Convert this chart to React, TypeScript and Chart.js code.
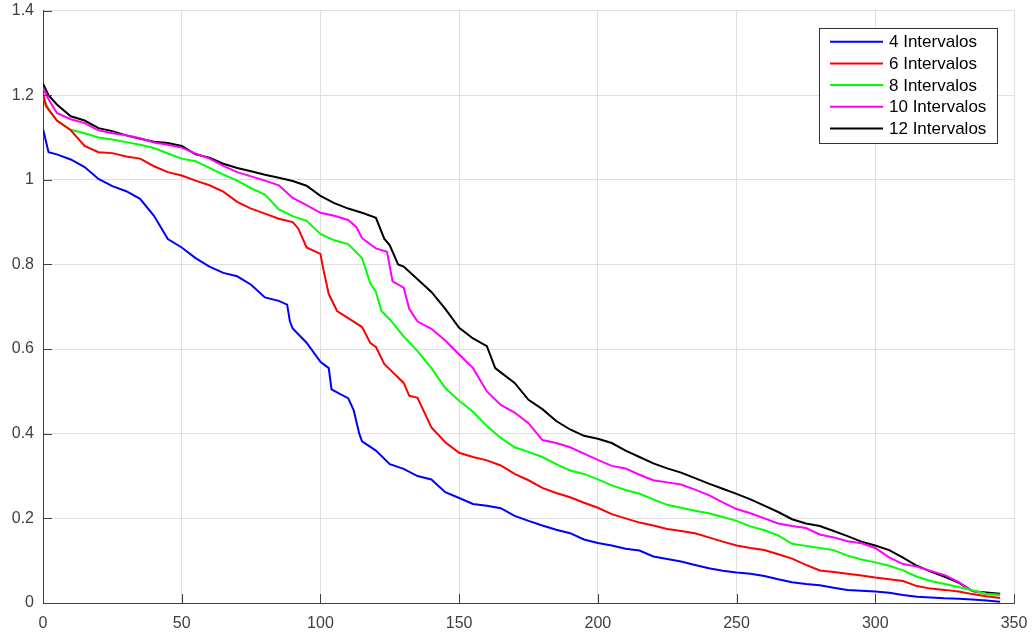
import React, { useEffect, useRef } from "react";
import { Chart, registerables } from "chart.js";

Chart.register(...registerables);

const seriesLabels = ["4 Intervalos", "6 Intervalos", "8 Intervalos", "10 Intervalos", "12 Intervalos"];
const seriesColors = ["#0000ff", "#ff0000", "#00ff00", "#ff00ff", "#000000"];

const xTicks = [0, 50, 100, 150, 200, 250, 300, 350];
const yTicks = [0, 0.2, 0.4, 0.6, 0.8, 1, 1.2, 1.4];

const blueX = [0,2,5,10,15,20,25,30,35,40,45,50,55,60,65,70,75,80,85,88,89,90,95,100,103,104,107,110,112,114,115,120,125,130,135,140,145,150,155,160,165,170,175,180,185,190,195,200,205,210,215,220,225,230,235,240,245,250,255,260,265,270,275,280,285,290,295,300,305,310,315,320,325,330,335,340,345];
const blueY = [1.12,1.065,1.06,1.048,1.03,1.002,0.985,0.973,0.955,0.915,0.86,0.84,0.815,0.795,0.78,0.772,0.752,0.722,0.714,0.705,0.665,0.649,0.615,0.57,0.555,0.505,0.494,0.484,0.455,0.40,0.382,0.36,0.328,0.317,0.300,0.292,0.262,0.248,0.234,0.230,0.224,0.206,0.194,0.183,0.173,0.165,0.150,0.142,0.136,0.128,0.124,0.110,0.104,0.098,0.090,0.082,0.076,0.072,0.069,0.064,0.056,0.049,0.045,0.042,0.036,0.031,0.029,0.027,0.024,0.019,0.015,0.013,0.011,0.010,0.008,0.006,0.003];

const redX = [0,1,5,10,15,20,25,30,35,40,45,50,55,60,65,70,75,80,85,90,92,95,100,101,103,106,110,115,118,120,123,125,130,132,135,140,145,150,155,160,165,170,175,180,185,190,195,200,205,210,215,220,225,230,235,240,245,250,255,260,265,270,275,280,285,290,295,300,305,310,315,320,325,330,335,340,345];
const redY = [1.206,1.175,1.14,1.117,1.08,1.065,1.063,1.055,1.05,1.032,1.018,1.01,0.998,0.987,0.972,0.948,0.932,0.92,0.908,0.9,0.885,0.84,0.825,0.79,0.73,0.69,0.673,0.652,0.614,0.605,0.565,0.552,0.52,0.49,0.485,0.415,0.38,0.355,0.345,0.337,0.325,0.305,0.29,0.272,0.26,0.25,0.237,0.225,0.21,0.2,0.19,0.183,0.175,0.17,0.165,0.155,0.145,0.136,0.13,0.125,0.115,0.105,0.09,0.077,0.073,0.069,0.065,0.06,0.056,0.052,0.04,0.034,0.031,0.027,0.021,0.016,0.012];

const greenX = [0,2,5,10,15,20,25,30,35,40,45,50,55,60,65,70,75,80,85,90,95,100,105,110,115,118,120,122,125,130,135,140,145,150,155,160,165,170,175,180,185,190,195,200,205,210,215,220,225,230,235,240,245,250,255,260,265,270,275,280,285,290,295,300,305,310,315,320,325,330,335,340,345];
const greenY = [1.195,1.166,1.14,1.118,1.11,1.1,1.095,1.089,1.083,1.075,1.062,1.05,1.044,1.028,1.012,0.998,0.98,0.965,0.93,0.914,0.903,0.872,0.857,0.848,0.815,0.755,0.735,0.69,0.67,0.63,0.595,0.555,0.508,0.478,0.452,0.418,0.39,0.368,0.357,0.345,0.328,0.313,0.305,0.292,0.278,0.267,0.258,0.245,0.232,0.225,0.218,0.212,0.203,0.194,0.181,0.172,0.16,0.14,0.135,0.13,0.125,0.112,0.103,0.096,0.088,0.077,0.062,0.052,0.045,0.038,0.03,0.022,0.018];

const magentaX = [0,2,5,10,15,20,25,30,35,40,45,50,55,60,65,70,75,80,85,90,95,100,105,110,113,115,120,124,125,126,130,132,135,140,145,150,155,160,165,170,175,180,185,190,195,200,205,210,215,220,225,230,235,240,245,250,255,260,265,270,275,280,285,290,295,300,305,310,315,320,325,330,335,340,345];
const magentaY = [1.218,1.19,1.158,1.143,1.134,1.117,1.11,1.105,1.098,1.088,1.083,1.076,1.062,1.05,1.033,1.018,1.008,0.998,0.987,0.957,0.94,0.922,0.915,0.905,0.888,0.862,0.838,0.83,0.795,0.76,0.745,0.695,0.665,0.648,0.62,0.587,0.555,0.5,0.468,0.45,0.425,0.385,0.378,0.368,0.353,0.338,0.324,0.318,0.303,0.29,0.285,0.28,0.268,0.255,0.238,0.222,0.212,0.2,0.188,0.182,0.177,0.162,0.155,0.146,0.141,0.13,0.108,0.092,0.086,0.076,0.066,0.05,0.028,0.022,0.02];

const blackX = [0,2,5,10,15,20,25,30,35,40,45,50,55,60,65,70,75,80,85,90,95,100,105,110,115,120,123,125,128,130,135,140,145,150,155,160,163,165,170,175,180,185,190,195,200,205,210,215,220,225,230,235,240,245,250,255,260,265,270,275,280,285,290,295,300,305,310,315,320,325,330,335,340,345];
const blackY = [1.227,1.2,1.178,1.15,1.14,1.122,1.115,1.105,1.097,1.09,1.087,1.08,1.06,1.052,1.038,1.028,1.02,1.012,1.005,0.997,0.986,0.962,0.945,0.932,0.922,0.91,0.861,0.845,0.8,0.795,0.765,0.735,0.695,0.65,0.625,0.607,0.555,0.545,0.52,0.48,0.458,0.43,0.41,0.395,0.388,0.378,0.36,0.345,0.33,0.318,0.308,0.295,0.282,0.27,0.258,0.245,0.23,0.215,0.198,0.188,0.182,0.17,0.158,0.145,0.136,0.125,0.107,0.088,0.074,0.062,0.048,0.028,0.025,0.022];

const seriesXs = [blueX, redX, greenX, magentaX, blackX];
const seriesYs = [blueY, redY, greenY, magentaY, blackY];

const FONT = "'Liberation Sans', Arial, Helvetica, sans-serif";
const AXIS_COLOR = "#404040";

const zip = (xs: number[], ys: number[]) => xs.map((x, i) => ({ x, y: ys[i] }));

const innerTicks = {
  id: "innerTicks",
  afterDatasetsDraw(chart: any) {
    const { ctx, chartArea, scales } = chart;
    ctx.save();
    ctx.strokeStyle = AXIS_COLOR;
    ctx.lineWidth = 1;
    ctx.beginPath();
    for (const v of xTicks) {
      const px = Math.round(scales.x.getPixelForValue(v)) + 0.5;
      ctx.moveTo(px, chartArea.bottom);
      ctx.lineTo(px, chartArea.bottom - 9);
    }
    for (const v of yTicks) {
      const py = Math.round(scales.y.getPixelForValue(v)) + 0.5;
      ctx.moveTo(chartArea.left, py);
      ctx.lineTo(chartArea.left + 9, py);
    }
    ctx.stroke();
    ctx.restore();
  },
};

const boxLegend = {
  id: "boxLegend",
  afterDraw(chart: any) {
    const { ctx, chartArea } = chart;
    const left = chartArea.right - 195;
    const top = chartArea.top + 17.5;
    const w = 178;
    const h = 115;
    ctx.save();
    ctx.fillStyle = "#ffffff";
    ctx.fillRect(left, top, w, h);
    ctx.strokeStyle = "#333333";
    ctx.lineWidth = 1;
    ctx.strokeRect(Math.round(left) + 0.5, Math.round(top) + 0.5, w, h);
    ctx.font = `17px ${FONT}`;
    ctx.textBaseline = "middle";
    ctx.textAlign = "left";
    chart.data.datasets.forEach((ds: any, i: number) => {
      const y = top + 13.7 + i * 21.7;
      ctx.strokeStyle = ds.borderColor;
      ctx.lineWidth = 2;
      ctx.beginPath();
      ctx.moveTo(left + 11, y);
      ctx.lineTo(left + 64, y);
      ctx.stroke();
      ctx.fillStyle = "#000000";
      ctx.fillText(ds.label, left + 70, y + 1);
    });
    ctx.restore();
  },
};

export default function App() {
  const ref = useRef<HTMLCanvasElement | null>(null);

  useEffect(() => {
    if (!ref.current) return;
    const chart = new Chart(ref.current, {
      type: "line",
      data: {
        datasets: seriesLabels.map((label, i) => ({
          label,
          data: zip(seriesXs[i], seriesYs[i]),
          borderColor: seriesColors[i],
          backgroundColor: seriesColors[i],
          borderWidth: 2,
          pointRadius: 0,
          tension: 0,
          fill: false,
        })),
      },
      options: {
        animation: false,
        responsive: false,
        devicePixelRatio: 1,
        layout: { padding: { left: 0, top: 10.5, right: 18, bottom: 0 } },
        plugins: {
          legend: { display: false },
          tooltip: { enabled: false },
        },
        scales: {
          x: {
            type: "linear",
            min: 0,
            max: 350,
            afterBuildTicks: (axis: any) => {
              axis.ticks = xTicks.map((v) => ({ value: v }));
            },
            afterFit: (scale: any) => {
              scale.height = 33;
              scale.paddingLeft = 0;
              scale.paddingRight = 0;
            },
            grid: { color: "#dfdfdf", drawTicks: false, lineWidth: 1 },
            border: { display: true, color: AXIS_COLOR, width: 1 },
            ticks: {
              color: AXIS_COLOR,
              font: { family: FONT, size: 16 },
              padding: 11,
              maxRotation: 0,
              callback: (v: any) => String(v),
            },
          },
          y: {
            type: "linear",
            min: 0,
            max: 1.4,
            afterBuildTicks: (axis: any) => {
              axis.ticks = yTicks.map((v) => ({ value: v }));
            },
            afterFit: (scale: any) => {
              scale.width = 43;
              scale.paddingTop = 0;
              scale.paddingBottom = 0;
            },
            grid: { color: "#dfdfdf", drawTicks: false, lineWidth: 1 },
            border: { display: true, color: AXIS_COLOR, width: 1 },
            ticks: {
              color: AXIS_COLOR,
              font: { family: FONT, size: 16 },
              padding: 9,
              callback: (v: any) => String(Math.round(v * 10) / 10),
            },
          },
        },
      },
      plugins: [innerTicks, boxLegend],
    });
    return () => chart.destroy();
  }, []);

  return (
    <div style={{ position: "fixed", left: 0, top: 0, width: 1032, height: 636, background: "#fff" }}>
      <canvas ref={ref} width={1032} height={636} style={{ display: "block" }} />
    </div>
  );
}
